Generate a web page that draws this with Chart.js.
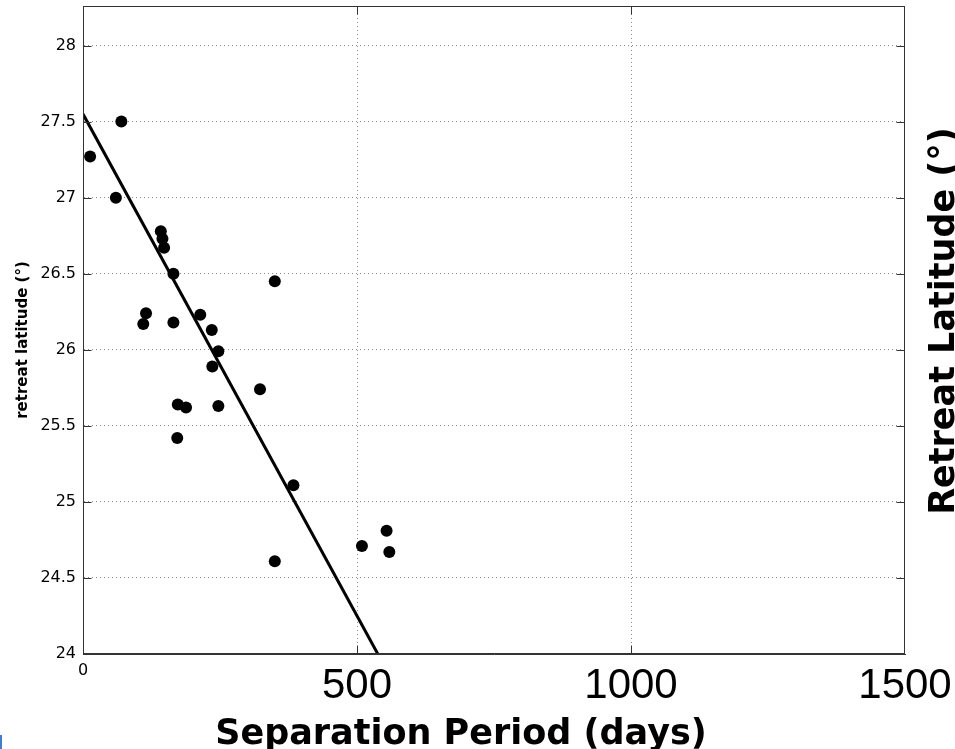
<!DOCTYPE html>
<html>
<head>
<meta charset="utf-8">
<title>Retreat latitude vs separation period</title>
<script src="https://cdn.jsdelivr.net/npm/chart.js@4.4.0/dist/chart.umd.min.js"></script>
<style>
  html, body { margin: 0; padding: 0; background: #fff; }
  #wrap { position: relative; width: 955px; height: 749px; overflow: hidden; }
  #caret { position: absolute; left: 0; top: 735px; width: 2px; height: 14px; background: #3c7dd9; }
</style>
</head>
<body>
<div id="wrap">
  <canvas id="latChart" width="955" height="749"></canvas>
  <div id="caret"></div>
</div>
<script>
// separation period (days) and retreat latitude (deg) for each event
const periodDays = [13, 70, 60, 142, 145, 148, 165, 350, 115, 110, 165, 214, 235, 247, 236, 323, 173, 188, 247, 172, 384, 350, 509, 554, 559];
const retreatLat = [27.27, 27.5, 27.0, 26.78, 26.73, 26.67, 26.5, 26.45, 26.24, 26.17, 26.18, 26.23, 26.13, 25.99, 25.89, 25.74, 25.64, 25.62, 25.63, 25.42, 25.11, 24.61, 24.71, 24.81, 24.67];

// least-squares fit line, end points
const fitDays = [0, 538];
const fitLat = [27.55, 24.0];

const xTicks = [0, 500, 1000, 1500];
const yTicks = [24, 24.5, 25, 25.5, 26, 26.5, 27, 27.5, 28];

const X_MIN = 0, X_MAX = 1500, Y_MIN = 24, Y_MAX = 28.26;
const FRAME = '#333';

Chart.defaults.font.family = 'DejaVu Sans';
Chart.defaults.color = '#000';

// box around the plot, inward tick marks and the axis titles
const framePlugin = {
  id: 'frame',
  afterDraw(chart) {
    const { ctx, chartArea: a, scales } = chart;
    const L = Math.round(a.left) + 0.5, R = Math.round(a.right) - 0.5;
    const T = Math.round(a.top) + 0.5, B = Math.round(a.bottom) - 0.5;
    ctx.save();
    ctx.strokeStyle = FRAME;
    ctx.lineWidth = 1;
    ctx.strokeRect(L, T, R - L, B - T);

    ctx.beginPath();
    yTicks.forEach(v => {
      if (v === Y_MIN) return;
      const y = Math.round(scales.y.getPixelForValue(v)) + 0.5;
      ctx.moveTo(L, y); ctx.lineTo(L + 8, y);
      ctx.moveTo(R, y); ctx.lineTo(R - 8, y);
    });
    xTicks.forEach(v => {
      if (v === X_MIN || v === X_MAX) return;
      const x = Math.round(scales.x.getPixelForValue(v)) + 0.5;
      ctx.moveTo(x, B); ctx.lineTo(x, B - 8);
      ctx.moveTo(x, T); ctx.lineTo(x, T + 8);
    });
    ctx.stroke();

    ctx.fillStyle = '#000';
    ctx.textAlign = 'center';
    ctx.textBaseline = 'alphabetic';

    // x title
    ctx.font = 'bold 35px "DejaVu Sans"';
    ctx.fillText('Separation Period (days)', 461, 744);

    // small y title on the left
    ctx.save();
    ctx.translate(27, 340);
    ctx.rotate(-Math.PI / 2);
    ctx.font = 'bold 15px "DejaVu Sans"';
    ctx.fillText('retreat latitude (°)', 0, 0);
    ctx.restore();

    // large y title on the right
    ctx.save();
    ctx.translate(954, 321);
    ctx.rotate(-Math.PI / 2);
    ctx.font = 'bold 35px "DejaVu Sans"';
    ctx.fillText('Retreat Latitude (°)', 0, 0);
    ctx.restore();

    ctx.restore();
  }
};

const points = periodDays.map((d, i) => ({ x: d, y: retreatLat[i] }));
const fitPoints = fitDays.map((d, i) => ({ x: d, y: fitLat[i] }));

const edgeLine = (v, lo, hi) => (v === lo || v === hi) ? 'rgba(0,0,0,0)' : '#888';

new Chart(document.getElementById('latChart'), {
  type: 'scatter',
  data: {
    datasets: [
      {
        data: points,
        pointRadius: 6,
        pointHoverRadius: 6,
        backgroundColor: '#000',
        borderWidth: 0
      },
      {
        data: fitPoints,
        showLine: true,
        pointRadius: 0,
        borderColor: '#000',
        borderWidth: 3,
        fill: false
      }
    ]
  },
  options: {
    responsive: false,
    animation: false,
    events: [],
    layout: { padding: { top: 6, right: 50, left: 0, bottom: 0 } },
    plugins: { legend: { display: false }, tooltip: { enabled: false } },
    scales: {
      x: {
        type: 'linear',
        min: X_MIN,
        max: X_MAX,
        afterBuildTicks: s => { s.ticks = xTicks.map(v => ({ value: v })); },
        afterFit: s => { s.height = 95; s.paddingLeft = 0; s.paddingRight = 0; },
        grid: { drawTicks: false, color: c => edgeLine(c.tick.value, X_MIN, X_MAX), lineWidth: 1 },
        border: { color: FRAME, width: 1, dash: [1, 3] },
        ticks: {
          padding: 7,
          maxRotation: 0,
          autoSkip: false,
          color: '#000',
          callback: v => String(v),
          font: c => (c.tick && c.tick.value === 0)
            ? { family: 'DejaVu Sans', size: 16 }
            : { family: 'Liberation Sans', size: 42 }
        }
      },
      y: {
        type: 'linear',
        min: Y_MIN,
        max: Y_MAX,
        afterBuildTicks: s => { s.ticks = yTicks.map(v => ({ value: v })); },
        afterFit: s => { s.width = 83; s.paddingTop = 0; s.paddingBottom = 0; },
        grid: { drawTicks: false, color: c => edgeLine(c.tick.value, Y_MIN, Y_MAX), lineWidth: 1 },
        border: { color: FRAME, width: 1, dash: [1, 3] },
        ticks: {
          padding: 7,
          autoSkip: false,
          color: '#000',
          callback: v => String(v),
          font: { family: 'DejaVu Sans', size: 16 }
        }
      }
    }
  },
  plugins: [framePlugin]
});
</script>
</body>
</html>
